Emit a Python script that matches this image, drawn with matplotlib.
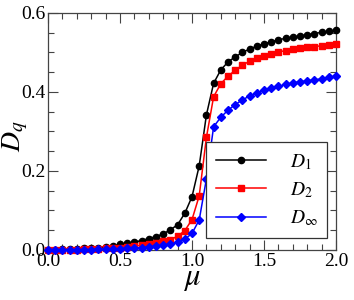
import numpy as np
import matplotlib.pyplot as plt
from matplotlib.ticker import MultipleLocator, FormatStrFormatter

plt.rcParams['font.family'] = ['Liberation Serif', 'DejaVu Serif']
plt.rcParams['mathtext.fontset'] = 'stix'

mu = np.round(np.arange(0, 2.001, 0.05), 2)

d1 = [0.001, 0.001, 0.002, 0.002, 0.003, 0.004, 0.005, 0.006, 0.008, 0.011,
      0.014, 0.017, 0.020, 0.024, 0.029, 0.034, 0.041, 0.051, 0.064, 0.093,
      0.135, 0.213, 0.342, 0.422, 0.456, 0.476, 0.489, 0.500, 0.509, 0.516,
      0.522, 0.527, 0.532, 0.536, 0.539, 0.542, 0.545, 0.548, 0.551, 0.554,
      0.556]
d2 = [0.001, 0.001, 0.001, 0.001, 0.001, 0.002, 0.002, 0.003, 0.004, 0.005,
      0.006, 0.008, 0.010, 0.012, 0.015, 0.018, 0.022, 0.026, 0.035, 0.049,
      0.077, 0.137, 0.285, 0.388, 0.421, 0.440, 0.455, 0.468, 0.478, 0.486,
      0.492, 0.497, 0.501, 0.505, 0.508, 0.511, 0.513, 0.515, 0.517, 0.519,
      0.521]
dinf = [0.001, 0.001, 0.001, 0.001, 0.001, 0.001, 0.001, 0.002, 0.002, 0.002,
        0.003, 0.004, 0.005, 0.006, 0.008, 0.010, 0.012, 0.015, 0.019, 0.027,
        0.042, 0.076, 0.180, 0.312, 0.336, 0.354, 0.368, 0.380, 0.390, 0.398,
        0.404, 0.409, 0.414, 0.419, 0.423, 0.426, 0.428, 0.431, 0.433, 0.437,
        0.440]

fig = plt.figure(figsize=(3.54, 3.0), dpi=100)
ax = fig.add_axes([0.1356, 0.1667, 0.8136, 0.79])

ax.plot(mu, d1, color='black', marker='o', ms=4.5, lw=1.1, label=r'$D_1$', clip_on=False, zorder=3)
ax.plot(mu, d2, color='red', marker='s', ms=4.2, lw=1.1, label=r'$D_2$', clip_on=False, zorder=3)
ax.plot(mu, dinf, color='blue', marker='D', ms=4.2, lw=1.1, label=r'$D_\infty$', clip_on=False, zorder=3)

ax.set_xlim(0, 2)
ax.set_ylim(0, 0.6)
ax.xaxis.set_major_locator(MultipleLocator(0.5))
ax.xaxis.set_minor_locator(MultipleLocator(0.1))
ax.yaxis.set_major_locator(MultipleLocator(0.2))
ax.yaxis.set_minor_locator(MultipleLocator(0.05))
ax.xaxis.set_major_formatter(FormatStrFormatter('%.1f'))
ax.yaxis.set_major_formatter(FormatStrFormatter('%.1f'))
ax.tick_params(which='both', direction='in', top=True, right=True, labelsize=14, width=0.8, color='#444444')
ax.tick_params(which='major', length=7, pad=2)
ax.tick_params(which='minor', length=4)
for s in ax.spines.values():
    s.set_linewidth(0.9)
    s.set_color('#444444')

ax.set_xlabel(r'$\mu$', fontsize=22, labelpad=-4)
ax.set_ylabel(r'$D_q$', fontsize=20)
ax.yaxis.set_label_coords(-0.062, 0.48)

leg = ax.legend(loc='lower right', bbox_to_anchor=(0.969, 0.05), borderaxespad=0,
                fontsize=14, handlelength=2.6, fancybox=False, edgecolor='#333333',
                framealpha=1, borderpad=0.5, labelspacing=0.45, handletextpad=1.2)
leg.get_frame().set_linewidth(0.9)

fig.savefig('out.png', dpi=100)
